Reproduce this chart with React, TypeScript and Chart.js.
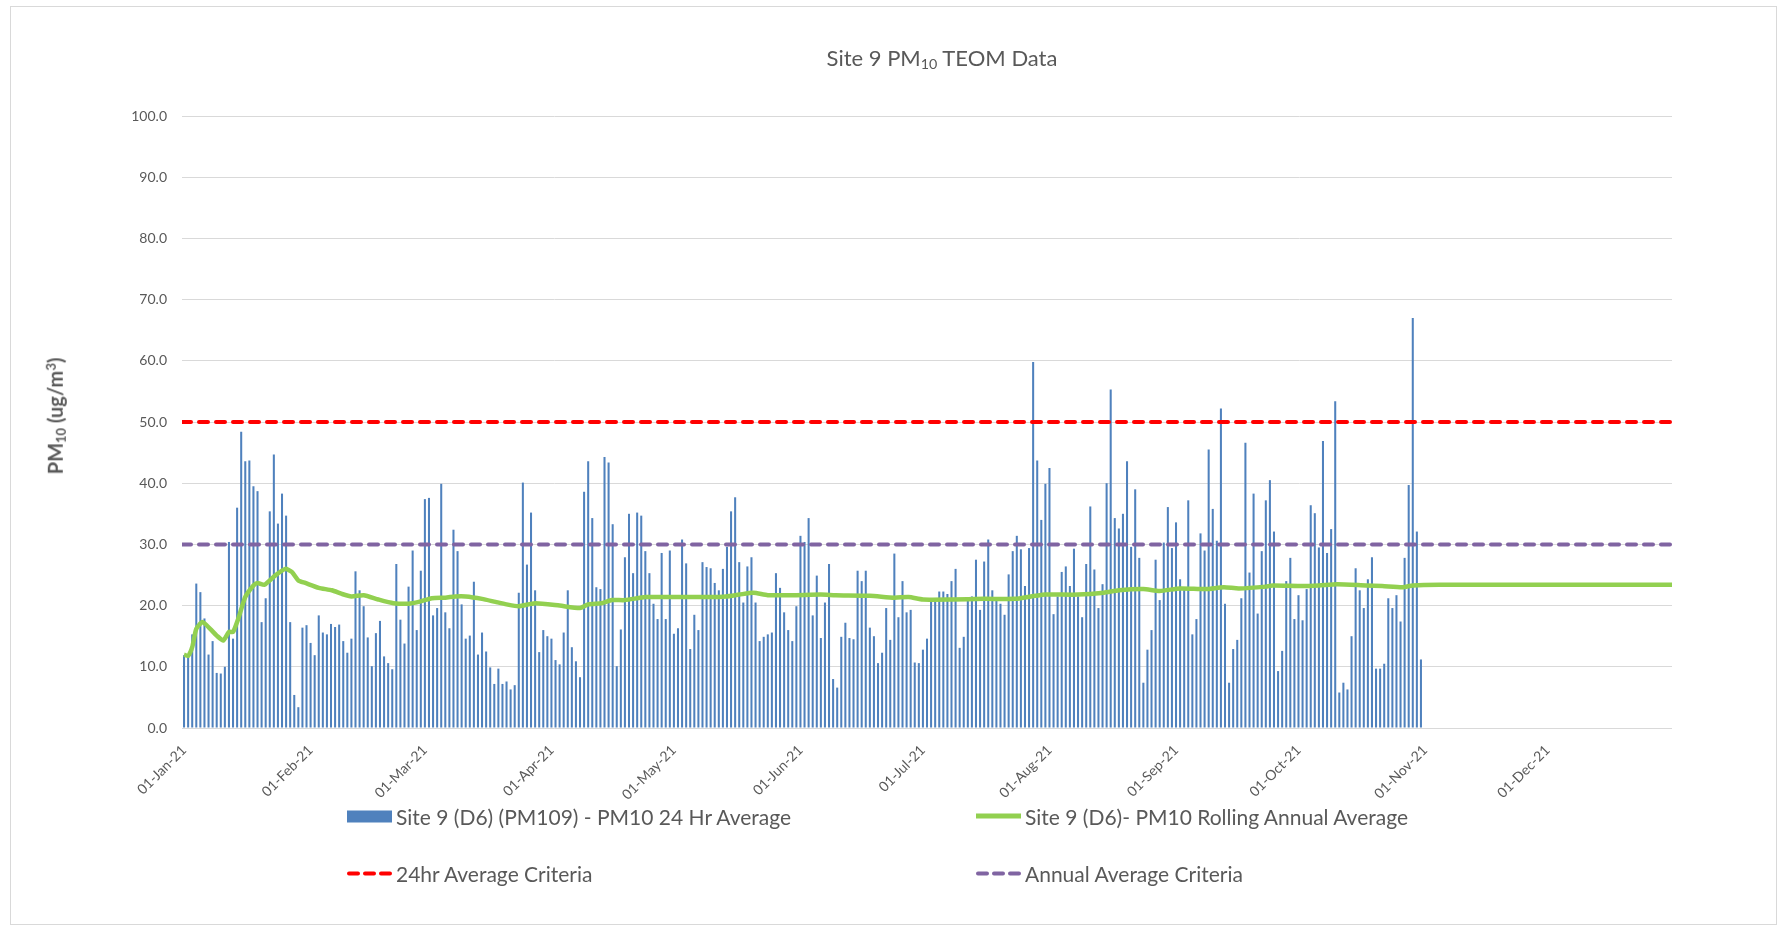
import React, { useEffect, useRef } from 'react';
import { Chart, registerables } from 'chart.js';

Chart.register(...registerables);

// Daily PM10 24 hr averages, 01-Jan-21 .. 31-Oct-21 (ug/m3)
const pm10Daily: number[] = [
  11.9, 11.8, 15.3, 23.6, 22.2, 17.9, 12.0, 14.2, 9.0, 8.9,
  10.0, 30.4, 14.6, 36.0, 48.4, 43.6, 43.7, 39.5, 38.7, 17.3,
  21.2, 35.4, 44.7, 33.4, 38.3, 34.7, 17.3, 5.4, 3.4, 16.4,
  16.8, 13.9, 11.9, 18.4, 15.6, 15.3, 17.0, 16.5, 16.9, 14.2,
  12.3, 14.6, 25.6, 22.5, 19.9, 14.8, 10.1, 15.5, 17.5, 11.7,
  10.6, 9.6, 26.8, 17.7, 13.8, 23.1, 29.0, 16.0, 25.7, 37.4,
  37.6, 18.4, 19.6, 39.9, 18.9, 16.3, 32.4, 28.9, 20.2, 14.6,
  15.1, 23.9, 12.0, 15.6, 12.5, 9.9, 7.2, 9.7, 7.2, 7.6,
  6.3, 7.0, 22.1, 40.1, 26.7, 35.2, 22.5, 12.4, 16.0, 15.0,
  14.6, 11.1, 10.4, 15.6, 22.5, 13.2, 10.9, 8.3, 38.6, 43.6,
  34.3, 23.0, 22.7, 44.3, 43.4, 33.3, 10.1, 16.1, 27.9, 35.0,
  25.3, 35.2, 34.7, 28.9, 25.3, 20.3, 17.8, 28.6, 17.8, 29.0,
  15.4, 16.3, 30.8, 26.9, 12.9, 18.5, 16.0, 27.1, 26.3, 26.1,
  23.7, 22.5, 26.0, 29.6, 35.4, 37.7, 27.1, 20.5, 26.4, 27.9,
  20.5, 14.2, 14.9, 15.3, 15.6, 25.3, 22.9, 18.9, 16.0, 14.2,
  19.9, 31.4, 30.4, 34.3, 18.4, 24.9, 14.7, 20.5, 26.8, 8.0,
  6.6, 14.9, 17.2, 14.7, 14.5, 25.7, 24.0, 25.7, 16.4, 15.0,
  10.6, 12.3, 19.6, 14.4, 28.5, 18.1, 24.0, 18.9, 19.3, 10.7,
  10.6, 12.8, 14.6, 20.6, 20.6, 22.3, 22.3, 21.9, 24.0, 26.0,
  13.1, 14.9, 20.8, 21.5, 27.5, 19.3, 27.2, 30.8, 22.5, 20.9,
  20.3, 18.5, 25.1, 28.9, 31.4, 29.2, 23.2, 29.4, 59.8, 43.7,
  34.0, 39.9, 42.5, 18.6, 21.5, 25.5, 26.4, 23.2, 29.3, 21.5,
  18.1, 26.8, 36.2, 25.9, 19.6, 23.5, 40.0, 55.3, 34.3, 32.6,
  35.0, 43.6, 29.6, 39.0, 27.8, 7.4, 12.8, 16.0, 27.5, 20.9,
  30.3, 36.1, 29.4, 33.6, 24.3, 23.0, 37.2, 15.3, 17.8, 31.8,
  29.0, 45.5, 35.8, 30.6, 52.2, 20.3, 7.4, 12.9, 14.4, 21.2,
  46.6, 25.4, 38.3, 18.7, 28.9, 37.2, 40.5, 32.1, 9.3, 12.6,
  24.0, 27.8, 17.8, 21.7, 17.6, 22.7, 36.4, 35.1, 29.5, 46.9,
  28.6, 32.5, 53.4, 5.8, 7.4, 6.3, 15.0, 26.1, 22.5, 19.6,
  24.3, 27.9, 9.7, 9.7, 10.5, 21.2, 19.6, 21.7, 17.4, 27.8,
  39.7, 67.0, 32.1, 11.2,
];

// Rolling annual average, read at day-of-year positions
const rollingDays: number[] = [
  0, 1, 2, 3, 4.5, 6.4, 8, 9.6, 11, 12, 13.3, 15, 17, 18, 19.7, 22.3, 24.8, 26.4, 28, 29.7,
  33, 36.2, 38.7, 41, 44, 47.6, 51.3, 55, 57.5, 60.7, 64, 66.5, 69, 73, 76.3, 79, 82, 86, 92, 97,
  99, 102.4, 104.8, 108, 113, 117.5, 128.5, 132.8, 136, 139.5, 143, 149, 156, 159.6, 168, 174, 177.5, 181, 188, 196,
  203.7, 208.6, 211, 219, 225.3, 229, 235, 239, 244, 250.4, 254.7, 258.4, 265, 266.6, 274, 278, 282.5, 289.5, 293.5, 298.5,
  301, 307.5, 364.5,
];
const rollingValues: number[] = [
  12.0, 11.8, 13.2, 16.2, 17.3, 16.2, 15.1, 14.3, 15.7, 15.7, 17.9, 21.4, 23.3, 23.7, 23.4, 24.9, 26.0, 25.5, 24.1, 23.7,
  22.9, 22.5, 21.9, 21.5, 21.7, 21.0, 20.4, 20.3, 20.6, 21.2, 21.3, 21.5, 21.5, 21.1, 20.6, 20.2, 19.9, 20.4, 20.0, 19.6,
  20.2, 20.4, 20.9, 20.9, 21.4, 21.4, 21.4, 21.5, 21.8, 22.1, 21.7, 21.7, 21.8, 21.7, 21.6, 21.3, 21.4, 21.0, 21.0, 21.1,
  21.1, 21.6, 21.8, 21.8, 22.1, 22.5, 22.7, 22.4, 22.8, 22.7, 23.0, 22.8, 23.1, 23.3, 23.2, 23.3, 23.5, 23.3, 23.2, 23.0,
  23.3, 23.4, 23.4,
];

const monthTickLabels: string[] = [
  '01-Jan-21', '01-Feb-21', '01-Mar-21', '01-Apr-21', '01-May-21', '01-Jun-21',
  '01-Jul-21', '01-Aug-21', '01-Sep-21', '01-Oct-21', '01-Nov-21', '01-Dec-21',
];
const monthTickDays: number[] = [0, 31, 59, 90, 120, 151, 181, 212, 243, 273, 304, 334];
const yTickValues: number[] = [0, 10, 20, 30, 40, 50, 60, 70, 80, 90, 100];

const criteria24hr = 50;
const criteriaAnnual = 30;

const seriesNames = {
  daily: 'Site 9 (D6) (PM109) - PM10 24 Hr Average',
  rolling: 'Site 9 (D6)- PM10 Rolling Annual Average',
  crit24: '24hr Average Criteria',
  critAnnual: 'Annual Average Criteria',
};

const FONT = 'Lato, "Open Sans", sans-serif';
const TEXT = '#595959';
const BAR = '#4F81BD';
const GREEN = '#92D050';
const RED = '#FF0000';
const PURPLE = '#8064A2';

const CW = 1765;
const CH = 917;

function DashSwatch({ color }: { color: string }) {
  return (
    <svg width={45} height={8} style={{ display: 'block' }}>
      <line x1={2} y1={4} x2={43} y2={4} stroke={color} strokeWidth={4} strokeDasharray="9 7" strokeLinecap="round" />
    </svg>
  );
}

export default function App() {
  const ref = useRef<HTMLCanvasElement | null>(null);

  useEffect(() => {
    if (!ref.current) return;
    const xMin = -0.5;
    const xMax = 364.5;
    const chart = new Chart(ref.current, {
      type: 'bar',
      data: {
        datasets: [
          {
            type: 'line',
            label: seriesNames.crit24,
            data: [{ x: xMin, y: criteria24hr }, { x: xMax, y: criteria24hr }],
            borderColor: RED,
            borderWidth: 4,
            borderDash: [9, 8],
            borderCapStyle: 'round',
            pointRadius: 0,
            order: 1,
          } as any,
          {
            type: 'line',
            label: seriesNames.critAnnual,
            data: [{ x: xMin, y: criteriaAnnual }, { x: xMax, y: criteriaAnnual }],
            borderColor: PURPLE,
            borderWidth: 4,
            borderDash: [9, 8],
            borderCapStyle: 'round',
            pointRadius: 0,
            order: 2,
          } as any,
          {
            type: 'line',
            label: seriesNames.rolling,
            data: rollingDays.map((d, i) => ({ x: d, y: rollingValues[i] })),
            borderColor: GREEN,
            borderWidth: 4.5,
            pointRadius: 0,
            tension: 0.2,
            order: 3,
          } as any,
          {
            type: 'bar',
            label: seriesNames.daily,
            data: pm10Daily.map((v, i) => ({ x: i, y: v })),
            backgroundColor: BAR,
            barPercentage: 0.5,
            categoryPercentage: 1,
            order: 10,
          } as any,
        ],
      },
      options: {
        animation: false,
        responsive: false,
        layout: { padding: { left: 0, top: 109, right: 104, bottom: 0 } },
        plugins: {
          legend: { display: false },
          title: { display: false },
          tooltip: { enabled: false },
        },
        scales: {
          x: {
            type: 'linear',
            min: xMin,
            max: xMax,
            offset: false,
            grid: { display: false },
            border: { display: false },
            afterBuildTicks: (s: any) => {
              s.ticks = monthTickDays.map((v) => ({ value: v }));
            },
            afterFit: (s: any) => {
              s.height = CH - 721;
            },
            ticks: {
              autoSkip: false,
              minRotation: 45,
              maxRotation: 45,
              padding: 6,
              color: TEXT,
              font: { family: FONT, size: 14 },
              callback: (v: any) => {
                const i = monthTickDays.indexOf(Number(v));
                return i >= 0 ? monthTickLabels[i] : '';
              },
            },
          },
          y: {
            min: 0,
            max: 100,
            afterBuildTicks: (s: any) => {
              s.ticks = yTickValues.map((v) => ({ value: v }));
            },
            afterFit: (s: any) => {
              s.width = 171;
            },
            grid: { color: '#D9D9D9', lineWidth: 1, drawTicks: false },
            border: { display: false },
            ticks: {
              padding: 15,
              color: TEXT,
              font: { family: FONT, size: 14 },
              callback: (v: any) => Number(v).toFixed(1),
            },
          },
        },
      } as any,
    });
    return () => chart.destroy();
  }, []);

  const legendText: React.CSSProperties = {
    fontFamily: FONT,
    fontSize: 21,
    color: TEXT,
    whiteSpace: 'nowrap',
    marginLeft: 4,
  };
  const item = (left: number, top: number): React.CSSProperties => ({
    position: 'absolute',
    left,
    top,
    transform: 'translateY(-50%)',
    display: 'flex',
    alignItems: 'center',
  });

  return (
    <div
      style={{
        position: 'absolute',
        left: 10,
        top: 6,
        width: CW + 2,
        height: CH + 2,
        border: '1px solid #D9D9D9',
        boxSizing: 'border-box',
        background: '#fff',
      }}
    >
      <div style={{ position: 'absolute', left: 0, top: 0, width: CW, height: CH, overflow: 'hidden' }}>
        <canvas ref={ref} width={CW} height={CH} style={{ width: CW, height: CH, display: 'block' }} />

        <div
          style={{
            position: 'absolute',
            left: 931,
            top: 51,
            transform: 'translate(-50%, -50%)',
            fontFamily: FONT,
            fontSize: 22,
            color: TEXT,
            whiteSpace: 'nowrap',
          }}
        >
          Site 9 PM<sub style={{ fontSize: '0.65em', verticalAlign: '-0.25em' }}>10</sub> TEOM Data
        </div>

        <div
          style={{
            position: 'absolute',
            left: 45,
            top: 409,
            transform: 'translate(-50%, -50%) rotate(-90deg)',
            fontFamily: FONT,
            fontSize: 20,
            fontWeight: 700,
            color: TEXT,
            whiteSpace: 'nowrap',
          }}
        >
          PM<sub style={{ fontSize: '0.65em', verticalAlign: '-0.25em' }}>10</sub> (ug/m
          <sup style={{ fontSize: '0.65em', verticalAlign: '0.55em' }}>3</sup>)
        </div>

        <div style={item(336, 809)}>
          <div style={{ width: 45, height: 12, background: BAR }} />
          <span style={legendText}>{seriesNames.daily}</span>
        </div>
        <div style={item(965, 809)}>
          <div style={{ width: 45, height: 4.5, background: GREEN }} />
          <span style={legendText}>{seriesNames.rolling}</span>
        </div>
        <div style={item(336, 866)}>
          <DashSwatch color={RED} />
          <span style={legendText}>{seriesNames.crit24}</span>
        </div>
        <div style={item(965, 866)}>
          <DashSwatch color={PURPLE} />
          <span style={legendText}>{seriesNames.critAnnual}</span>
        </div>
      </div>
    </div>
  );
}
